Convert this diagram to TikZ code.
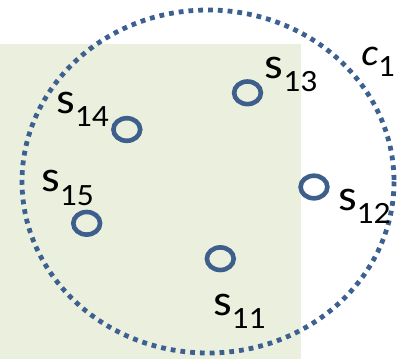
\documentclass[tikz,border=0pt]{standalone}
\usepackage{fontspec}
\usepackage{graphicx}
\setmainfont{Carlito}
\usetikzlibrary{shapes.geometric}
\definecolor{bgreen}{RGB}{235,240,222}
\definecolor{dotblue}{RGB}{60,96,144}
\definecolor{ringblue}{RGB}{62,95,140}
\newcommand{\slab}[1]{\scalebox{1.08}[1]{\fontsize{44}{44}\selectfont s\raisebox{-13.4pt}{\fontsize{31}{31}\selectfont #1}}}
\begin{document}
\begin{tikzpicture}[x=1pt,y=-1pt,
  ring/.style={draw=ringblue,line width=4.6pt,ellipse,inner sep=0pt,minimum width=26.8pt,minimum height=22.6pt},
  lab/.style={anchor=base west,inner sep=0pt,outer sep=0pt,text=black}]
\useasboundingbox (0,0) rectangle (399,359);
\fill[bgreen] (0,44) rectangle (300.7,359);
\draw[dotblue,line width=4.8pt,dash pattern=on 4.8pt off 5pt] (208,181.5) ellipse [x radius=186, y radius=171.5];
\node[ring] (r13) at (247.5,92.8) {};
\node[ring] (r14) at (126.8,129.5) {};
\node[ring] (r12) at (314,187) {};
\node[ring] (r15) at (86.7,223.3) {};
\node[ring] (r11) at (220.3,258.7) {};
\node[lab] (l13) at (264.7,78.3) {\slab{13}};
\node[lab] (l14) at (56.3,113.3) {\slab{14}};
\node[lab] (l15) at (41.3,191.7) {\slab{15}};
\node[lab] (l12) at (338,210) {\slab{12}};
\node[lab] (l11) at (213,315) {\slab{11}};
\node[lab] (c1) at (361.3,65) {\scalebox{1.06}[1]{\fontsize{38}{38}\selectfont\itshape c\raisebox{-11.7pt}{\upshape\fontsize{31}{31}\selectfont 1}}};
\end{tikzpicture}
\end{document}
